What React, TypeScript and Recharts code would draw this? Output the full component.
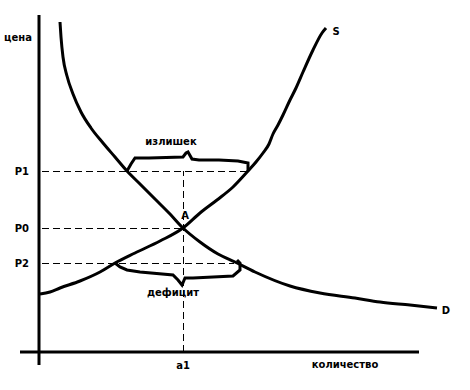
import { ComposedChart, Line, XAxis, YAxis, ReferenceLine, ReferenceDot } from 'recharts'

// units: quantity / price (origin at the axes crossing)
const demand = [
  { q: 2.1, p: 33.0 }, { q: 2.2, p: 31.5 }, { q: 2.4, p: 29.5 }, { q: 2.8, p: 27.6 },
  { q: 3.4, p: 25.8 }, { q: 4.2, p: 24.0 }, { q: 5.2, p: 22.4 }, { q: 6.4, p: 20.9 },
  { q: 7.6, p: 19.5 }, { q: 8.8, p: 18.1 }, { q: 10.1, p: 16.8 },
  { q: 11.6, p: 15.3 }, { q: 13.1, p: 13.8 }, { q: 14.4, p: 12.4 }, { q: 16.1, p: 11.0 },
  { q: 17.9, p: 9.8 }, { q: 19.6, p: 9.0 }, { q: 21.6, p: 8.0 }, { q: 25.1, p: 6.6 },
  { q: 28.1, p: 5.9 }, { q: 31.6, p: 5.4 }, { q: 34.1, p: 5.0 }, { q: 37.1, p: 4.7 },
  { q: 39.8, p: 4.4 },
]

const supply = [
  { q: 0.1, p: 5.8 }, { q: 1.1, p: 6.0 }, { q: 2.1, p: 6.4 }, { q: 4.1, p: 7.1 },
  { q: 6.1, p: 8.0 }, { q: 7.6, p: 8.9 }, { q: 9.6, p: 9.9 }, { q: 12.1, p: 11.1 },
  { q: 14.4, p: 12.4 }, { q: 16.1, p: 13.9 }, { q: 17.8, p: 15.2 }, { q: 19.4, p: 16.5 },
  { q: 20.9, p: 18.1 }, { q: 21.7, p: 19.0 }, { q: 22.4, p: 19.9 }, { q: 23.0, p: 20.8 },
  { q: 23.4, p: 21.8 }, { q: 23.9, p: 22.7 }, { q: 24.4, p: 23.7 }, { q: 25.1, p: 25.2 },
  { q: 25.7, p: 26.4 }, { q: 26.4, p: 28.0 }, { q: 27.4, p: 30.2 }, { q: 28.3, p: 31.9 },
  { q: 28.7, p: 32.4 },
]

const surplusBrace = [
  { q: 8.8, p: 18.1 }, { q: 9.2, p: 18.8 }, { q: 9.6, p: 19.4 }, { q: 11.0, p: 19.4 },
  { q: 14.4, p: 19.5 }, { q: 14.7, p: 19.9 }, { q: 14.9, p: 20.0 }, { q: 15.3, p: 19.3 },
  { q: 16.0, p: 19.2 }, { q: 18.0, p: 19.2 }, { q: 19.9, p: 19.1 }, { q: 20.9, p: 18.9 },
  { q: 20.9, p: 18.1 },
]

const deficitBrace = [
  { q: 7.6, p: 8.9 }, { q: 8.1, p: 8.5 }, { q: 8.8, p: 8.2 }, { q: 10.1, p: 8.0 },
  { q: 13.4, p: 7.7 }, { q: 13.9, p: 7.2 }, { q: 14.3, p: 6.7 }, { q: 14.6, p: 7.4 },
  { q: 15.4, p: 7.4 }, { q: 19.4, p: 7.6 }, { q: 20.1, p: 8.2 }, { q: 20.1, p: 8.9 },
  { q: 19.8, p: 9.2 },
]

const a1 = 14.4
const priceLevels = [
  { name: 'P1', p: 18.1, to: 20.9 },
  { name: 'P0', p: 12.4, to: 14.4 },
  { name: 'P2', p: 8.9, to: 19.5 },
]

const labels = [
  { text: 'цена', q: -2.1, p: 31.5 },
  { text: 'S', q: 29.7, p: 32.1 },
  { text: 'D', q: 40.7, p: 4.2 },
  { text: 'A', q: 14.6, p: 13.7 },
  { text: 'излишек', q: 13.2, p: 21.1 },
  { text: 'дефицит', q: 13.4, p: 6.0 },
  { text: 'a1', q: 14.4, p: -1.3 },
  { text: 'количество', q: 30.6, p: -1.2 },
]

const font = { fill: '#000', fontSize: 10, fontWeight: 'bold', fontFamily: 'DejaVu Sans' }

export default function App() {
  return (
    <div style={{ position: 'absolute', left: 0, top: 0, background: '#fff' }}>
      <ComposedChart width={470} height={390} margin={{ top: 0, right: 0, bottom: 0, left: 0 }}>
        <XAxis type="number" dataKey="q" domain={[-3.9, 43.1]} hide allowDataOverflow />
        <YAxis type="number" dataKey="p" domain={[-3.8, 35.2]} hide allowDataOverflow />

        {priceLevels.map((l) => (
          <ReferenceLine key={l.name} segment={[{ x: 0.3, y: l.p }, { x: l.to, y: l.p }]}
            stroke="#000" strokeWidth={1} strokeDasharray="7 4" shapeRendering="crispEdges" />
        ))}
        <ReferenceLine segment={[{ x: a1, y: 0 }, { x: a1, y: 18.1 }]}
          stroke="#000" strokeWidth={1} strokeDasharray="7 4" shapeRendering="crispEdges" />

        <ReferenceLine segment={[{ x: 0, y: -1.3 }, { x: 0, y: 33.7 }]} stroke="#000" strokeWidth={3} />
        <ReferenceLine segment={[{ x: -1.9, y: 0 }, { x: 38.0, y: 0 }]} stroke="#000" strokeWidth={3} />

        <Line data={demand} dataKey="p" type="monotone" stroke="#000" strokeWidth={3} dot={false} activeDot={false} isAnimationActive={false} />
        <Line data={supply} dataKey="p" type="monotone" stroke="#000" strokeWidth={3} dot={false} activeDot={false} isAnimationActive={false} />
        <Line data={surplusBrace} dataKey="p" type="linear" stroke="#000" strokeWidth={3} dot={false} activeDot={false} isAnimationActive={false} />
        <Line data={deficitBrace} dataKey="p" type="linear" stroke="#000" strokeWidth={3} dot={false} activeDot={false} isAnimationActive={false} />

        {priceLevels.map((l) => (
          <ReferenceDot key={'t' + l.name} x={-0.5} y={l.p} r={0} stroke="none" fill="none"
            label={{ value: l.name, position: 'left', ...font }} />
        ))}
        {labels.map((l) => (
          <ReferenceDot key={l.text} x={l.q} y={l.p} r={0} stroke="none" fill="none"
            label={{ value: l.text, position: 'center', ...font }} />
        ))}
      </ComposedChart>
    </div>
  )
}
